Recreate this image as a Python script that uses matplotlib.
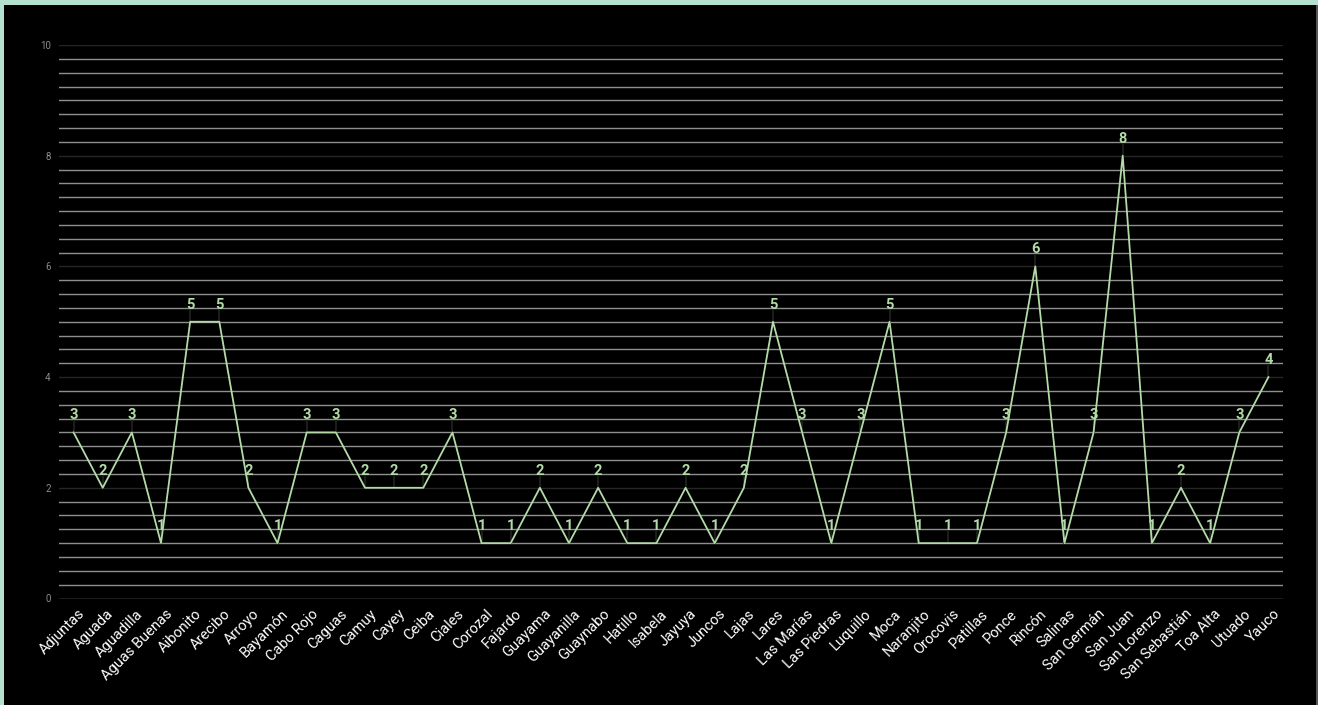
import matplotlib
matplotlib.use("Agg")

import numpy as np
import matplotlib.pyplot as plt
import matplotlib.transforms as mtransforms
from matplotlib.patches import Rectangle

towns = ["Adjuntas", "Aguada", "Aguadilla", "Aguas Buenas", "Aibonito", "Arecibo",
         "Arroyo", "Bayamón", "Cabo Rojo", "Caguas", "Camuy", "Cayey", "Ceiba",
         "Ciales", "Corozal", "Fajardo", "Guayama", "Guayanilla", "Guaynabo",
         "Hatillo", "Isabela", "Jayuya", "Juncos", "Lajas", "Lares", "Las Marías",
         "Las Piedras", "Luquillo", "Moca", "Naranjito", "Orocovis", "Patillas",
         "Ponce", "Rincón", "Salinas", "San Germán", "San Juan", "San Lorenzo",
         "San Sebastián", "Toa Alta", "Utuado", "Yauco"]
counts = [3, 2, 3, 1, 5, 5, 2, 1, 3, 3, 2, 2, 2, 3, 1, 1, 2, 1, 2, 1, 1, 2, 1, 2,
          5, 3, 1, 3, 5, 1, 1, 1, 3, 6, 1, 3, 8, 1, 2, 1, 3, 4]
y_ticks = [0, 2, 4, 6, 8, 10]

plt.rcParams['font.family'] = ['Roboto', 'DejaVu Sans']

line_color = "#b3dba8"
W, H = 1318, 705

fig = plt.figure(figsize=(W / 100, H / 100), dpi=100)
fig.patch.set_facecolor("#b5e2cf")
# black panel inside the green frame
fig.patches.append(Rectangle((4 / W, 0), 1312 / W, (H - 5) / H, transform=fig.transFigure,
                             facecolor="#000000", edgecolor="none", zorder=-10))
fig.patches.append(Rectangle((1316 / W, 0), 2 / W, (H - 5) / H, transform=fig.transFigure,
                             facecolor="#555555", edgecolor="none", zorder=-10))

ax = fig.add_axes([59 / W, (H - 598.5) / H, (1283 - 59) / W, (598.5 - 45) / H])
ax.set_facecolor("#000000")

x = np.arange(len(towns))

# minor grid every 0.25, major grid darker
for v in np.arange(0.25, 10, 0.25):
    if abs(v - round(v / 2) * 2) < 1e-9:
        continue
    ax.axhline(v, color="#8f8f8f", linewidth=1.0, zorder=1)
for v in y_ticks:
    ax.axhline(v, color="#8f8f8f" if v == 0 else "#262626", linewidth=1.0, zorder=1)

ax.plot(x, counts, color=line_color, linewidth=1.3, zorder=3)

for xi, c in zip(x, counts):
    ax.plot([xi, xi], [c, c + 0.2], color="#1c1c1c", linewidth=1.5, zorder=2)
    ax.text(xi, c + 0.18, str(c), ha="center", va="bottom", color=line_color,
            fontsize=10.5, fontweight="bold", zorder=4)

ax.set_xlim(-0.5, len(towns) - 0.5)
ax.set_ylim(0, 10)
ax.set_xticks(x)
ax.set_xticklabels(towns, rotation=45, ha="right", rotation_mode="anchor",
                   color="white", fontsize=10.5)
ax.set_yticks(y_ticks)
ax.set_yticklabels([str(v) for v in y_ticks], color="#8c8c8c", fontsize=7)
ax.tick_params(axis="both", length=0)
ax.tick_params(axis="x", pad=6)
ax.tick_params(axis="y", pad=6)

# nudge the rotated labels a bit to the right, like the original
shift = mtransforms.ScaledTranslation(4 / 100, 0, fig.dpi_scale_trans)
for lbl in ax.get_xticklabels():
    lbl.set_transform(lbl.get_transform() + shift)

for s in ax.spines.values():
    s.set_visible(False)

fig.savefig("out.png", dpi=100, facecolor=fig.get_facecolor())
